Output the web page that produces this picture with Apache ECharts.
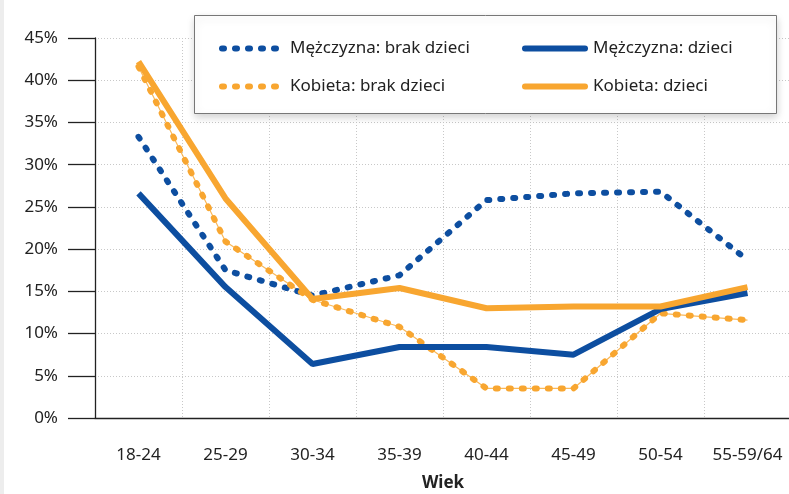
<!DOCTYPE html>
<html>
<head>
<meta charset="utf-8">
<script src="https://cdn.jsdelivr.net/npm/echarts@6/dist/echarts.min.js"></script>
<style>
  html, body { margin: 0; padding: 0; background: #fff; }
  #chart { width: 789px; height: 494px; }
</style>
</head>
<body>
<div id="chart"></div>
<script>
    // dane (%)
    const categories = ['18-24', '25-29', '30-34', '35-39', '40-44', '45-49', '50-54', '55-59/64'];
    const menNoKids = [33.3, 17.5, 14.5, 16.9, 25.8, 26.6, 26.8, 18.7];
    const menKids = [26.6, 15.5, 6.4, 8.4, 8.4, 7.5, 12.9, 14.8];
    const womenNoKids = [41.6, 20.9, 14.0, 10.8, 3.5, 3.5, 12.4, 11.6];
    const womenKids = [42.2, 26.0, 14.1, 15.4, 13.0, 13.2, 13.2, 15.5];
    const yTicks = [0, 45, 5]; // min, max, interval

    const BLUE = '#0d4ea0';
    const ORANGE = '#f8a630';
    const FONT = 'Noto Sans';
    const dots = [2, 11];

    const legendCommon = {
        orient: 'vertical',
        top: 35,
        itemWidth: 60, itemHeight: 14, itemGap: 21,
        itemStyle: { opacity: 0 },
        lineStyle: { width: 6, type: 'inherit', cap: 'round' },
        textStyle: { fontSize: 17, color: '#222', fontFamily: FONT, padding: [0, 0, 0, 3] },
        z: 100
    };

    let myChart = echarts.init(document.getElementById('chart'));
    myChart.setOption({
        textStyle: { fontFamily: FONT },
        animation: false,
        grid: { left: 95, top: 38, width: 696, height: 380, containLabel: false, outerBoundsMode: 'none' },
        graphic: [{
            type: 'rect',
            left: 0, top: 0,
            shape: { width: 4, height: 494 },
            style: { fill: '#ededed' },
            z: 0
        }, {
            type: 'rect',
            left: 194, top: 15,
            shape: { width: 582, height: 98 },
            style: { fill: '#fff', stroke: '#777', lineWidth: 1, shadowBlur: 8, shadowOffsetY: 3, shadowColor: 'rgba(0,0,0,0.18)' },
            z: 90
        }],
        legend: [
            Object.assign({}, legendCommon, { left: 214, data: ['Mężczyzna: brak dzieci', 'Kobieta: brak dzieci'] }),
            Object.assign({}, legendCommon, { left: 517, data: ['Mężczyzna: dzieci', 'Kobieta: dzieci'] })
        ],
        xAxis: {
            type: 'category',
            data: categories,
            boundaryGap: true,
            axisLine: { lineStyle: { color: '#222', width: 1.3 } },
            axisTick: { length: 22, lineStyle: { color: '#222', width: 1.3 } },
            axisLabel: { fontSize: 17, color: '#222', margin: 29, interval: 0 },
            splitLine: { show: true, lineStyle: { color: '#c8c8c8', type: [1, 2] } },
            name: 'Wiek',
            nameLocation: 'middle',
            nameGap: 57,
            nameTextStyle: { fontSize: 17, fontWeight: 'bold', color: '#222' }
        },
        yAxis: {
            type: 'value',
            min: yTicks[0], max: yTicks[1], interval: yTicks[2],
            axisLine: { show: true, lineStyle: { color: '#222', width: 1.3 } },
            axisTick: { show: true, length: 27, lineStyle: { color: '#222', width: 1.3 } },
            axisLabel: { fontSize: 17, color: '#222', margin: 37, formatter: '{value}%' },
            splitLine: { show: true, lineStyle: { color: '#c8c8c8', type: [1, 2] } }
        },
        series: [{
            name: 'Mężczyzna: brak dzieci',
            type: 'line',
            data: menNoKids,
            symbol: 'none',
            itemStyle: { color: BLUE },
            lineStyle: { color: BLUE, width: 6, type: dots, cap: 'round', join: 'round' },
            z: 3
        }, {
            name: 'Mężczyzna: dzieci',
            type: 'line',
            data: menKids,
            symbol: 'none',
            itemStyle: { color: BLUE },
            lineStyle: { color: BLUE, width: 6 },
            z: 4
        }, {
            name: 'Kobieta: brak dzieci',
            type: 'line',
            data: womenNoKids,
            symbol: 'none',
            itemStyle: { color: ORANGE },
            lineStyle: { color: ORANGE, width: 6, type: dots, cap: 'round', join: 'round' },
            z: 3
        }, {
            name: 'Kobieta: brak dzieci',
            type: 'line',
            data: womenNoKids,
            symbol: 'none',
            itemStyle: { color: ORANGE },
            lineStyle: { color: ORANGE, width: 1.2, opacity: 0.8 },
            z: 2
        }, {
            name: 'Kobieta: dzieci',
            type: 'line',
            data: womenKids,
            symbol: 'none',
            itemStyle: { color: ORANGE },
            lineStyle: { color: ORANGE, width: 6 },
            z: 4
        }]
    });
</script>
</body>
</html>
